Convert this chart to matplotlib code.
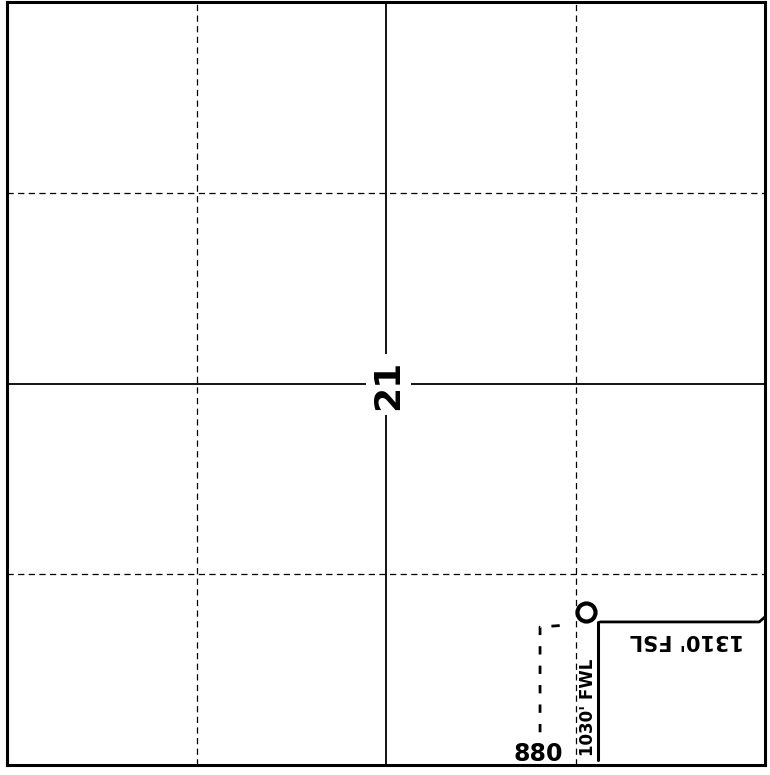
import matplotlib
matplotlib.use("Agg")
import matplotlib.pyplot as plt

# Section plat, coordinates in feet (section = 5280 ft square)
section = 5280
quarter_dashed = [1320, 3960]
quarter_solid = [2640]
section_label = "21"

# well symbol and dimension lines (as drawn on the scan)
well_xy = (4030, 1060)
dim_h_x = [4131, 5240, 5280]
dim_h_y = [990, 990, 1025]
dim_v_x = [4117, 4117]
dim_v_y = [990, 35]
leader_x = [3850, 3713, 3713]
leader_y = [965, 955, 200]

labels = [
    # text, x, y, rotation, size
    ("1310' FSL", 4737, 865, 180, 15),
    ("1030' FWL", 4050, 400, 90, 12),
    ("880", 3699, 75, 0, 17),
]

fig = plt.figure(figsize=(7.7, 7.75), dpi=100)
ax = fig.add_axes([7 / 770, 10 / 775, 758 / 770, 763 / 775])
ax.set_xlim(0, section)
ax.set_ylim(0, section)
ax.set_xticks([])
ax.set_yticks([])
for sp in ax.spines.values():
    sp.set_linewidth(2.2)
    sp.set_color('black')

for q in quarter_dashed:
    ax.axvline(q, color='black', lw=0.9, linestyle=(0, (5, 3.5)))
    ax.axhline(q, color='black', lw=0.9, linestyle=(0, (5, 3.5)))
for q in quarter_solid:
    ax.axvline(q, color='black', lw=1.3)
    ax.axhline(q, color='black', lw=1.3)

ax.text(section / 2 + 15, section / 2 - 10, section_label, rotation=90,
        fontsize=26, fontweight='bold', ha='center', va='center',
        bbox=dict(boxstyle='square,pad=0.15', fc='white', ec='none'))

ax.plot(dim_h_x, dim_h_y, color='black', lw=2.0, solid_capstyle='round')
ax.plot(dim_v_x, dim_v_y, color='black', lw=2.2, solid_capstyle='round')
ax.plot(leader_x, leader_y, color='black', lw=2.0, linestyle=(0, (3, 4)))
ax.plot(*well_xy, marker='o', markersize=13, mfc='white', mec='black',
        mew=3, zorder=5)

for txt, x, y, rot, size in labels:
    ax.text(x, y, txt, rotation=rot, fontsize=size, fontweight='bold',
            ha='center', va='center')

fig.savefig('out.png', dpi=100, facecolor='white')
